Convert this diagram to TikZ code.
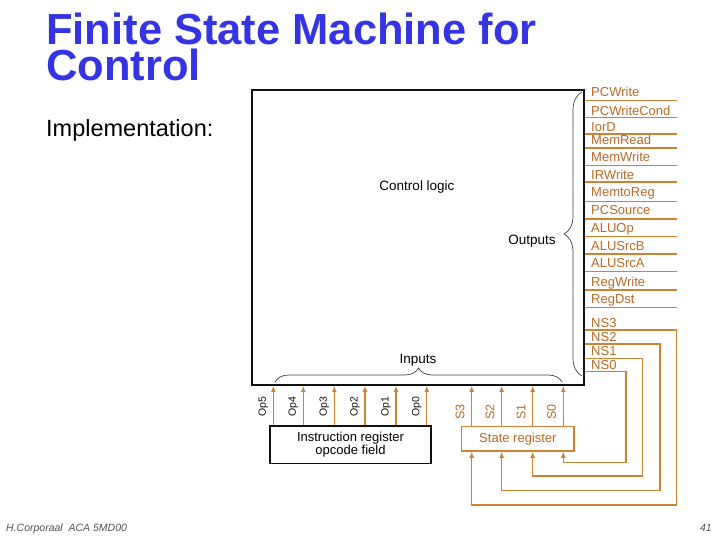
\documentclass[tikz,border=0pt]{standalone}
\usepackage{fontspec}
\setmainfont{Liberation Sans}
\usetikzlibrary{arrows.meta,decorations.pathreplacing}
\definecolor{ink}{HTML}{111111}
\definecolor{titleblue}{HTML}{3434E4}
\definecolor{wire}{HTML}{CF8233}
\definecolor{wiretext}{HTML}{B86A24}
\definecolor{footgray}{HTML}{505050}
\tikzset{
  >={Latex[length=6pt,width=5pt]},
  logic/.style={draw=ink,line width=1.8pt,inner sep=0},
  regbox/.style={draw=ink,line width=1.6pt,inner sep=0,align=center,font=\fontsize{13}{13.5}\selectfont},
  statebox/.style={regbox,draw=wire,line width=1.4pt,text=wiretext},
  sig/.style={draw=wire,line width=1.4pt},
  feed/.style={->,sig},
  siglabel/.style={anchor=base west,inner sep=0,text=wiretext,font=\fontsize{13}{13}\selectfont},
  oplabel/.style={rotate=90,inner sep=0,text=ink,font=\fontsize{10.5}{10.5}\selectfont},
  slabel/.style={oplabel,text=wiretext,font=\fontsize{12.5}{12.5}\selectfont},
  bundle/.style={draw=ink!80,line width=0.7pt,decorate},
  plain/.style={inner sep=0,font=\fontsize{13.5}{13.5}\selectfont},
  titletext/.style={inner sep=0,text=titleblue,font=\fontsize{43.5}{43.5}\selectfont\bfseries},
  foot/.style={inner sep=0,text=footgray,font=\fontsize{10.5}{10.5}\selectfont\itshape}
}

\begin{document}
\begin{tikzpicture}[x=1pt,y=-1pt]
  \useasboundingbox (0,0) rectangle (720,540);
  \node[titletext,anchor=base west] (title) at (46,45) {Finite State Machine for};
  \node[titletext,anchor=base west] (title2) at (46,81) {Control};
  \node[anchor=base west,inner sep=0,font=\fontsize{23.5}{23.5}\selectfont] (impl) at (46,137) {Implementation:};

  \node[logic,minimum width=332pt,minimum height=295pt] (ctrl) at (418,237.5) {};
  \node[regbox,minimum width=161pt,minimum height=37.3pt] (ir) at (350.5,444.7) {Instruction register\\opcode field};
  \node[statebox,minimum width=112.3pt,minimum height=24.3pt] (sr) at (517.9,438.9) {State register};

  \node[plain] (ctrltxt) at (417,187) {Control logic};
  \node[plain] (outtxt) at (532,241) {Outputs};
  \node[plain] (intxt) at (418,360) {Inputs};
  \draw[bundle,decoration={brace,amplitude=18pt}] (582,376) -- (582,92);
  \draw[bundle,decoration={brace,amplitude=14pt}] (275,382) -- (562,382);

  % control outputs
  \foreach \sig/\ty/\ly in {PCWrite/92/100.7, PCWriteCond/110.7/117.7, IorD/126.7/134, MemRead/140/148,
      MemWrite/157/165.7, IRWrite/175/182, MemtoReg/191.7/201.7, PCSource/210/219, ALUOp/228/236.7,
      ALUSrcB/245.7/254, ALUSrcA/263/271.7, RegWrite/281.7/290, RegDst/299/307.3}
  {
    \node[siglabel] (\sig) at (591,\ty+4.6) {\sig};
    \draw[sig] (ctrl.east |- 0,\ly) -- (677,\ly);
  }

  % opcode inputs
  \foreach \i/\x in {5/273.3, 4/303.3, 3/334.3, 2/365, 1/396, 0/426.7}
  {
    \coordinate (op\i) at (\x,0);
    \draw[feed] (ir.north -| op\i) -- (ctrl.south -| op\i);
    \node[oplabel] (lop\i) at (\x-10,406.7) {Op\i};
  }

  % state bits
  \foreach \i/\x in {3/471.7, 2/501.7, 1/532.7, 0/563.3}
  {
    \coordinate (s\i) at (\x,0);
    \draw[feed] (sr.north -| s\i) -- (ctrl.south -| s\i);
    \node[slabel] (ls\i) at (\x-11.7,411.7) {S\i};
  }

  % next state back into the register
  \foreach \i/\ty/\ly/\vx/\by in {3/323/330/676.7/505, 2/337/344/660/490.7, 1/351/358.3/642.7/476, 0/365/371.7/626/462.7}
  {
    \node[siglabel] (ns\i) at (591,\ty+4.6) {NS\i};
    \draw[feed] (ctrl.east |- 0,\ly) -| (\vx,\by) -| (sr.south -| s\i);
  }

  \node[foot,anchor=base west] (author) at (6,531) {H.Corporaal\ \ ACA 5MD00};
  \node[foot,anchor=base east] (page) at (712,531) {41};
\end{tikzpicture}
\end{document}
